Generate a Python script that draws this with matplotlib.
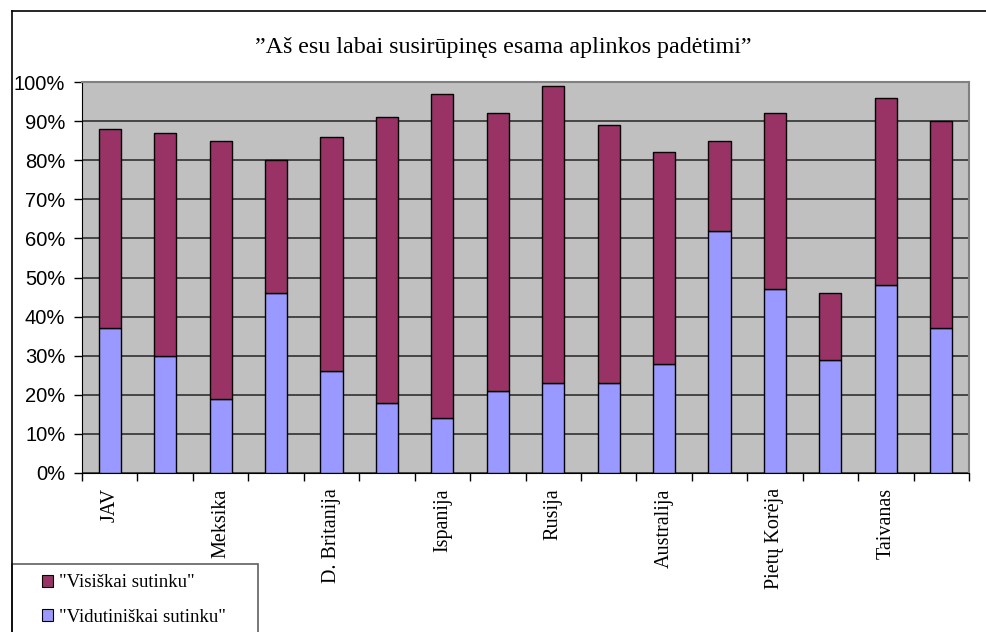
import matplotlib
matplotlib.use("Agg")
import matplotlib.pyplot as plt
from matplotlib.patches import Rectangle
from matplotlib.lines import Line2D
import numpy as np

categories = ["JAV", "", "Meksika", "", "D. Britanija", "", "Ispanija", "",
              "Rusija", "", "Australija", "", "Pietų Korėja", "", "Taivanas", ""]
vidutiniskai = [37, 30, 19, 46, 26, 18, 14, 21, 23, 23, 28, 62, 47, 29, 48, 37]
totals = [88, 87, 85, 80, 86, 91, 97, 92, 99, 89, 82, 85, 92, 46, 96, 90]
visiskai = [t - v for t, v in zip(totals, vidutiniskai)]
yticks = [0, 10, 20, 30, 40, 50, 60, 70, 80, 90, 100]

title = "”Aš esu labai susirūpinęs esama aplinkos padėtimi”"
serif = ["Liberation Serif", "DejaVu Serif"]
sans = ["Liberation Sans", "DejaVu Sans"]

W, H = 986, 632
fig = plt.figure(figsize=(W / 100, H / 100), dpi=100)
fig.patch.set_facecolor("white")

# outer chart frame (open at right and bottom)
fig.add_artist(Line2D([12 / W, 12 / W], [0, 1 - 11 / H], color="black", lw=1.2,
                      transform=fig.transFigure))
fig.add_artist(Line2D([12 / W, 1], [1 - 11 / H, 1 - 11 / H], color="black", lw=1.2,
                      transform=fig.transFigure))

left, right, top, bottom = 82, 969, 82, 473
ax = fig.add_axes([left / W, 1 - bottom / H, (right - left) / W, (bottom - top) / H])
ax.set_facecolor("#C0C0C0")

x = np.arange(len(categories))
bw = 0.4
b1 = ax.bar(x, vidutiniskai, width=bw, color="#9999FF", edgecolor="black", linewidth=1,
            zorder=3, label='"Vidutiniškai sutinku"')
b2 = ax.bar(x, visiskai, width=bw, bottom=vidutiniskai, color="#993366", edgecolor="black",
            linewidth=1, zorder=3, label='"Visiškai sutinku"')

ax.set_xlim(-0.5, len(categories) - 0.5)
ax.set_ylim(0, 100)
ax.set_yticks(yticks)
ax.set_yticklabels([f"{v}%" for v in yticks], fontfamily=sans, fontsize=14.5)
ax.yaxis.grid(True, color="#303030", lw=1.2, zorder=1)
ax.set_axisbelow(True)
ax.tick_params(axis="y", direction="out", length=6, width=1, pad=6)

# category boundary ticks
ax.set_xticks(np.arange(-0.5, len(categories), 1.0), minor=False)
ax.set_xticklabels([])
ax.tick_params(axis="x", which="major", direction="out", length=6, width=1)
ax.set_xticks(x, minor=True)
ax.set_xticklabels(categories, minor=True, rotation=90, fontfamily=serif, fontsize=14.5)
ax.tick_params(axis="x", which="minor", length=0, pad=11)

for s in ["top", "right"]:
    ax.spines[s].set_color("#808080")
    ax.spines[s].set_linewidth(1.5)
ax.spines["left"].set_color("black")
ax.spines["bottom"].set_color("black")

fig.text(503 / W, 1 - 47 / H, title, ha="center", va="center",
         fontfamily=serif, fontsize=17.3)

# legend box
fig.add_artist(Rectangle((12 / W, -0.05), (258 - 12) / W, 0.05 + (632 - 564) / H,
                         transform=fig.transFigure, facecolor="white",
                         edgecolor="#606060", lw=1.2))
leg = fig.legend([b2, b1], ['"Visiškai sutinku"', '"Vidutiniškai sutinku"'],
                 loc="center left", bbox_to_anchor=(42 / W, 1 - 600 / H),
                 prop={"family": serif, "size": 13.5}, frameon=False,
                 handlelength=0.6, handleheight=0.6, handletextpad=0.3,
                 borderpad=0, labelspacing=0.92, borderaxespad=0)
for h in leg.legend_handles:
    h.set_linewidth(0.8)

fig.savefig("out.png", dpi=100)
